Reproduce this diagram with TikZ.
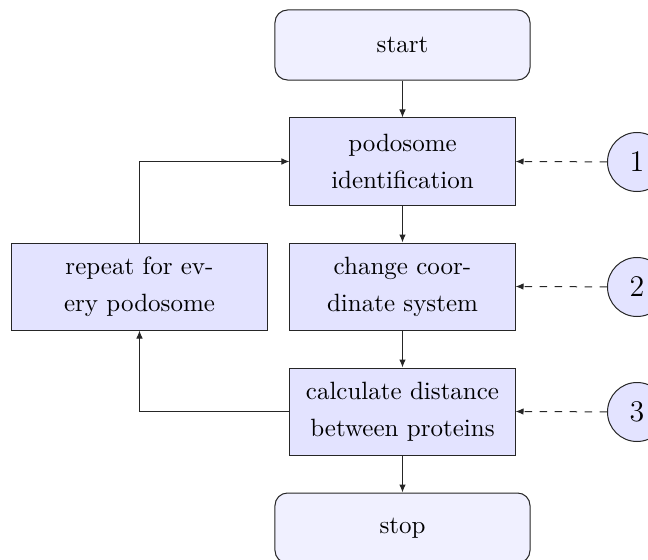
\documentclass[tikz,border=0pt]{standalone}
\usetikzlibrary{arrows.meta}
\begin{document}
\begin{tikzpicture}[x=0.4pt,y=-0.4pt,
  term/.style={draw=black!85,fill=blue!6,rounded corners=5pt,minimum width=102pt,minimum height=28pt,align=center,inner sep=0pt},
  proc/.style={draw=black!85,fill=blue!11,minimum width=90pt,minimum height=34.8pt,align=center,inner sep=0pt,font=\fontsize{10}{14.8}\selectfont},
  num/.style={draw=black!85,fill=blue!11,circle,minimum size=23.6pt,inner sep=0pt,font=\large},
  flow/.style={draw=black!85,-{Latex[length=3.2pt,width=2.6pt]}},
  feed/.style={draw=black!85,dashed,-{Latex[length=3.2pt,width=2.6pt]}}]
\useasboundingbox (0,0) rectangle (648,560);
\clip (0,0) rectangle (648,560);
\node[term] (start) at (402.5,45) {start};
\node[proc] (pod) at (402.5,161.5) {podosome\\identification};
\node[proc] (coord) at (402.5,286.5) {change coor-\\dinate system};
\node[proc] (calc) at (402.5,411.5) {calculate distance\\between proteins};
\node[term] (stop) at (402.5,528) {stop};
\node[proc,minimum width=102pt] (rep) at (139.5,286.5) {repeat for ev-\\ery podosome};
\node[num] (n1) at (637,162) {1};
\node[num] (n2) at (637,287) {2};
\node[num] (n3) at (637,412) {3};
\coordinate (c1) at (139.5,411.5);
\coordinate (c2) at (139.5,161.5);
\draw[flow] (start) -- (pod);
\draw[flow] (pod) -- (coord);
\draw[flow] (coord) -- (calc);
\draw[flow] (calc) -- (stop);
\draw[flow] (calc.west) -- (c1) -- (rep.south);
\draw[flow] (rep.north) -- (c2) -- (pod.west);
\draw[feed] (n1) -- (pod.east);
\draw[feed] (n2) -- (coord.east);
\draw[feed] (n3) -- (calc.east);
\end{tikzpicture}
\end{document}
